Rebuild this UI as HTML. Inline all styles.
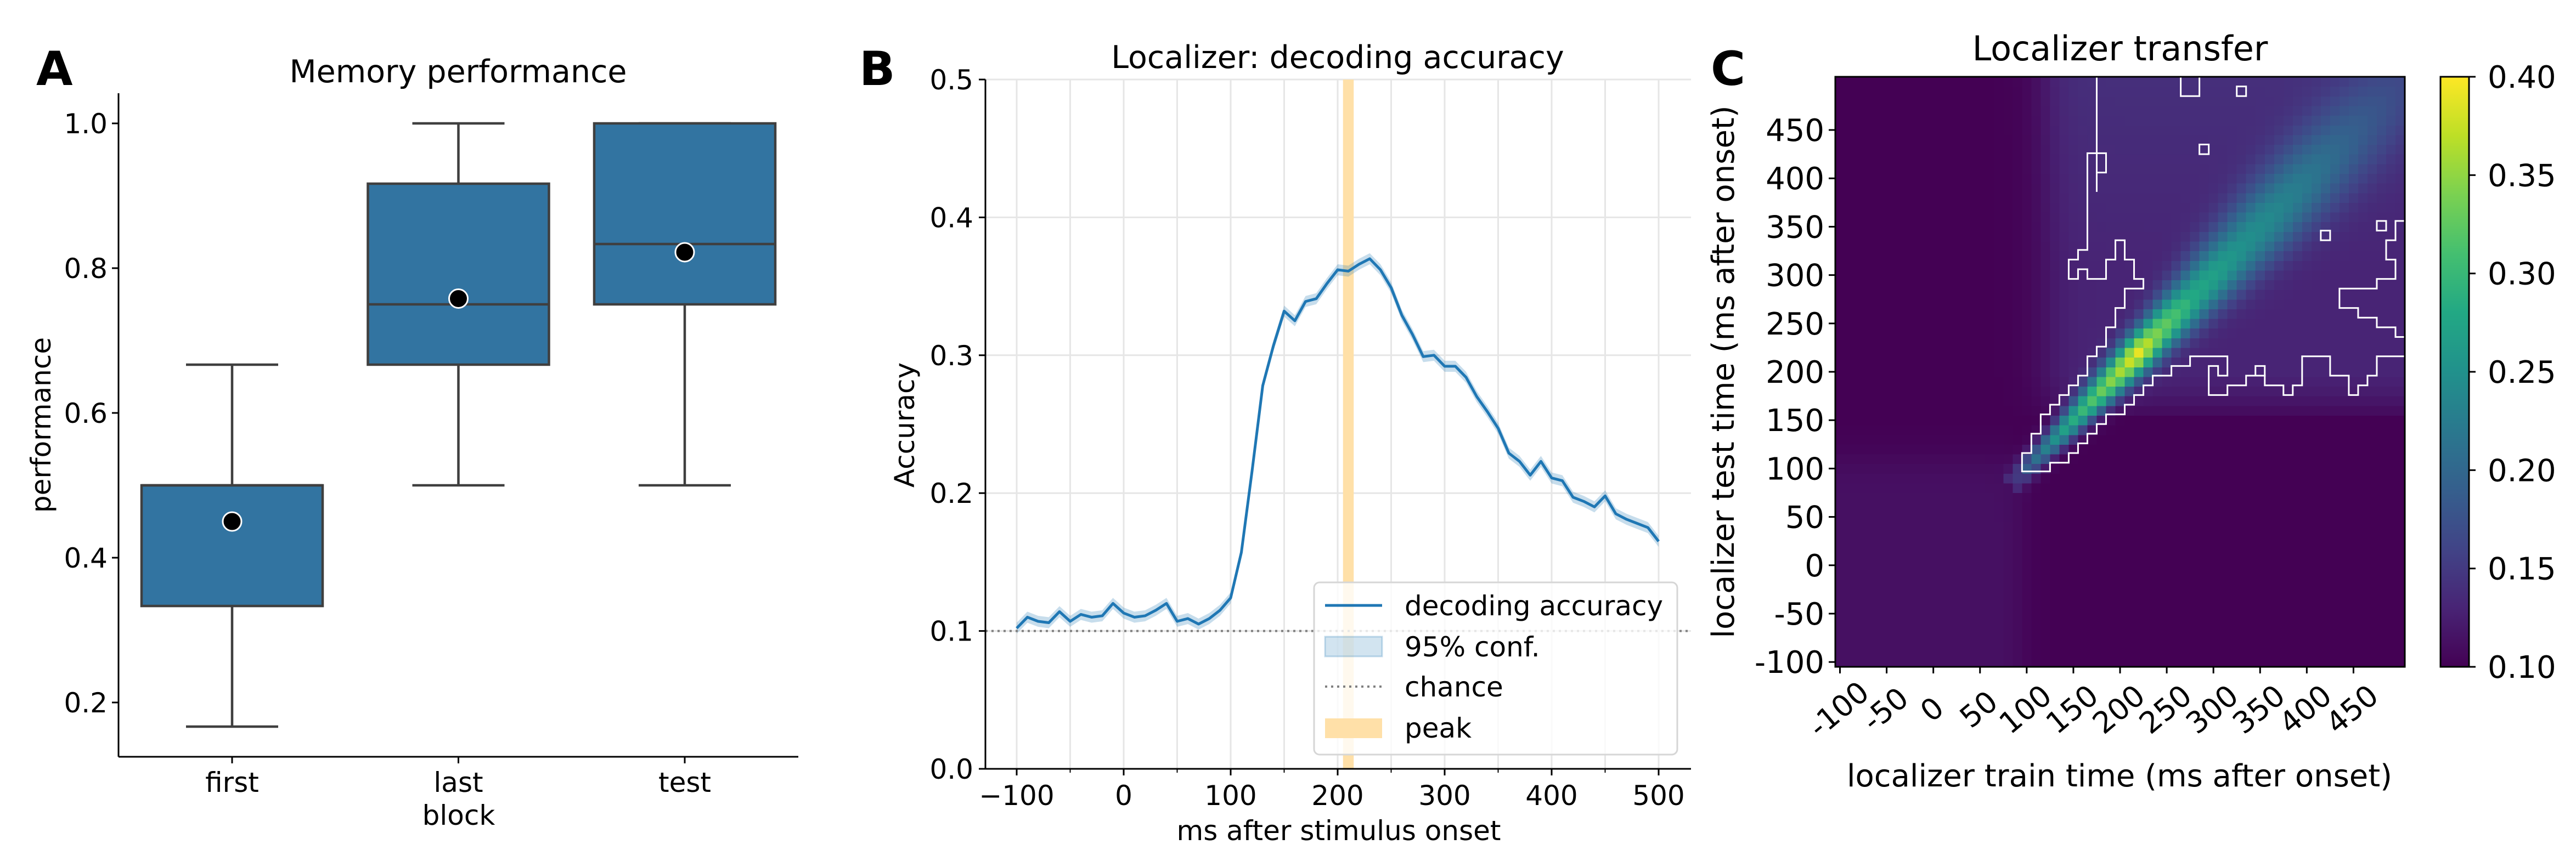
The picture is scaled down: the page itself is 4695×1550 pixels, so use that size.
<!DOCTYPE html>
<html><head><meta charset="utf-8"><style>
html,body{margin:0;padding:0;background:#fff}
svg{display:block;font-family:"DejaVu Sans","Liberation Sans",sans-serif}
</style></head><body>
<svg id="fig" xmlns="http://www.w3.org/2000/svg" width="4695" height="1550" viewBox="0 0 4695 1550">
<rect width="4695" height="1550" fill="#fff"/>
<g id="pA"></g>
<g id="pB"></g>
<g id="pC"></g>
</svg>
<script>
// ---------- Panel A data ----------
const boxCats = ["first","last","test"];
const boxQ1 = [0.3333,0.6667,0.75];
const boxQ3 = [0.5,0.9167,1.0];
const boxMed = [0.5,0.75,0.8333];
const boxWLo = [0.1667,0.5,0.5];
const boxWHi = [0.6667,1.0,1.0];
const boxMean = [0.45,0.758,0.822];
const aTicks = [0.2,0.4,0.6,0.8,1.0];
// ---------- Panel B data ----------
const accTimes = [-100,-90,-80,-70,-60,-50,-40,-30,-20,-10,0,10,20,30,40,50,60,70,80,90,100,110,120,130,140,150,160,170,180,190,200,210,220,230,240,250,260,270,280,290,300,310,320,330,340,350,360,370,380,390,400,410,420,430,440,450,460,470,480,490,500];
const accValues = [0.102,0.110,0.107,0.106,0.114,0.107,0.112,0.110,0.111,0.120,0.113,0.110,0.111,0.115,0.120,0.107,0.109,0.105,0.109,0.115,0.124,0.157,0.216,0.278,0.307,0.332,0.325,0.339,0.341,0.352,0.362,0.361,0.366,0.370,0.362,0.349,0.329,0.315,0.299,0.300,0.292,0.292,0.284,0.270,0.259,0.247,0.229,0.223,0.213,0.223,0.211,0.209,0.197,0.194,0.190,0.198,0.185,0.181,0.178,0.175,0.165];
const accCI = 0.004;
const bXTicks = [-100,0,100,200,300,400,500];
const bYTicks = [0.0,0.1,0.2,0.3,0.4,0.5];
const chanceLevel = 0.1;
const peakRange = [205,215];
// ---------- Panel C data ----------
const cTimes = [-100,-90,-80,-70,-60,-50,-40,-30,-20,-10,0,10,20,30,40,50,60,70,80,90,100,110,120,130,140,150,160,170,180,190,200,210,220,230,240,250,260,270,280,290,300,310,320,330,340,350,360,370,380,390,400,410,420,430,440,450,460,470,480,490,500];
const diagTimes = [90,100,120,140,160,180,200,220,240,260,280,300,330,360,400,450,500];
const diagValues = [0.15,0.19,0.23,0.27,0.30,0.33,0.36,0.39,0.34,0.31,0.28,0.27,0.25,0.24,0.22,0.19,0.165];
const diagWidth = [15,15,16,18,20,22,24,26,28,32,36,40,45,50,55,60,60];
const offTestTimes = [150,160,200,300,400,500];
const offValues = [0.10,0.12,0.13,0.13,0.135,0.14];
const earlyLevel = 0.113;
const cTicks = [-100,-50,0,50,100,150,200,250,300,350,400,450];
const cbTicks = [0.10,0.15,0.20,0.25,0.30,0.35,0.40];
const contourMain = [[95,97],[95,116],[105,116],[105,136],[115,136],[115,156],[125,156],[125,166],[135,166],[135,176],[145,176],[145,186],[155,186],[155,196],[165,196],[165,216],[175,216],[175,226],[185,226],[185,246],[195,246],[195,266],[205,266],[205,286],[225,286],[225,296],[215,296],[215,316],[205,316],[205,336],[195,336],[195,316],[185,316],[185,296],[165,296],[165,306],[155,306],[155,296],[145,296],[145,316],[155,316],[155,326],[165,326],[165,426],[185,426],[185,406],[175,406],[175,386],[175,386],[175,505],[505,505],[505,356],[495,356],[495,336],[485,336],[485,316],[495,316],[495,296],[475,296],[475,286],[435,286],[435,266],[455,266],[455,256],[475,256],[475,246],[495,246],[495,236],[505,236],[505,216],[475,216],[475,196],[465,196],[465,186],[455,186],[455,176],[445,176],[445,196],[425,196],[425,216],[395,216],[395,186],[385,186],[385,176],[375,176],[375,186],[355,186],[355,196],[335,196],[335,186],[315,186],[315,176],[295,176],[295,206],[305,206],[305,196],[315,196],[315,216],[275,216],[275,206],[255,206],[255,196],[235,196],[235,186],[225,186],[225,176],[215,176],[215,166],[205,166],[205,156],[185,156],[185,146],[175,146],[175,136],[165,136],[165,126],[155,126],[155,116],[145,116],[145,106],[125,106],[125,97]];
const contourIslands = [[[265,485],[285,485],[285,505],[265,505]],[[285,425],[295,425],[295,435],[285,435]],[[325,485],[335,485],[335,495],[325,495]],[[415,336],[425,336],[425,346],[415,346]],[[475,346],[485,346],[485,356],[475,356]],[[345,196],[355,196],[355,206],[345,206]]];

const NS="http://www.w3.org/2000/svg";
function mk(parent,tag,attrs,text){const e=document.createElementNS(NS,tag);for(const k in attrs)e.setAttribute(k,attrs[k]);if(text!==undefined)e.textContent=text;parent.appendChild(e);return e;}
function interp(xs,ys,x){if(x<=xs[0])return ys[0];for(let i=1;i<xs.length;i++){if(x<=xs[i]){const f=(x-xs[i-1])/(xs[i]-xs[i-1]);return ys[i-1]+f*(ys[i]-ys[i-1]);}}return ys[ys.length-1];}
function sig(z){return 1/(1+Math.exp(-z));}

// ================= Panel A =================
(function(){
const g=document.getElementById('pA');
const L=216,R=1455,T=170,B=1380;
const y=v=>1545-1320*v;
const xc=i=>423+i*412.5;
let t;
t=mk(g,'text',{x:66,y:155,'font-size':86,'font-weight':'bold'},'A');

t=mk(g,'text',{x:835,y:150,'font-size':57,'text-anchor':'middle'},'Memory performance');

for(let i=0;i<boxCats.length;i++){
  const bg=mk(g,'g',{});
  
  const x=xc(i),hw=165,cw=84,st='#3f3f3f';
  mk(bg,'line',{x1:x,x2:x,y1:y(boxQ3[i]),y2:y(boxWHi[i]),stroke:st,'stroke-width':4.5});
  mk(bg,'line',{x1:x,x2:x,y1:y(boxQ1[i]),y2:y(boxWLo[i]),stroke:st,'stroke-width':4.5});
  mk(bg,'line',{x1:x-cw,x2:x+cw,y1:y(boxWHi[i]),y2:y(boxWHi[i]),stroke:st,'stroke-width':4.5});
  mk(bg,'line',{x1:x-cw,x2:x+cw,y1:y(boxWLo[i]),y2:y(boxWLo[i]),stroke:st,'stroke-width':4.5});
  mk(bg,'rect',{x:x-hw,y:y(boxQ3[i]),width:2*hw,height:y(boxQ1[i])-y(boxQ3[i]),fill:'#3274a1',stroke:st,'stroke-width':4.5});
  mk(bg,'line',{x1:x-hw,x2:x+hw,y1:y(boxMed[i]),y2:y(boxMed[i]),stroke:st,'stroke-width':4.5});
  const m=mk(bg,'circle',{cx:x,cy:y(boxMean[i]),r:17,fill:'#000',stroke:'#fff','stroke-width':3});
  
  mk(g,'line',{x1:x,x2:x,y1:B,y2:B+12,stroke:'#000','stroke-width':3});
  t=mk(g,'text',{x:x,y:1444,'font-size':50,'text-anchor':'middle'},boxCats[i]);
  
}
aTicks.forEach(v=>{mk(g,'line',{x1:L-12,x2:L,y1:y(v),y2:y(v),stroke:'#000','stroke-width':3});
  const tt=mk(g,'text',{x:L-20,y:y(v)+18,'font-size':50,'text-anchor':'end'},v.toFixed(1));
  });
mk(g,'line',{x1:L,x2:L,y1:T,y2:B,stroke:'#000','stroke-width':3});
mk(g,'line',{x1:L,x2:R,y1:B,y2:B,stroke:'#000','stroke-width':3});
t=mk(g,'text',{x:836,y:1504,'font-size':50,'text-anchor':'middle'},'block');

t=mk(g,'text',{x:0,y:0,'font-size':50,'text-anchor':'middle',transform:'translate(92,775) rotate(-90)'},'performance');

})();

// ================= Panel B =================
(function(){
const g=document.getElementById('pB');
const L=1796,R=3082,T=145,B=1402;
const x=v=>1853+(v+100)*1.95;
const y=v=>B-v*2514;
let t;
t=mk(g,'text',{x:1566,y:155,'font-size':86,'font-weight':'bold'},'B');

t=mk(g,'text',{x:2438,y:124,'font-size':57,'text-anchor':'middle'},'Localizer: decoding accuracy');

const grid=mk(g,'g',{});
for(let v=-100;v<=500;v+=50)mk(grid,'line',{x1:x(v),x2:x(v),y1:T,y2:B,stroke:'#e6e6e6','stroke-width':3});
bYTicks.forEach(v=>mk(grid,'line',{x1:L,x2:R,y1:y(v),y2:y(v),stroke:'#e6e6e6','stroke-width':3}));
const pk=mk(g,'rect',{x:x(peakRange[0]),y:T,width:x(peakRange[1])-x(peakRange[0]),height:B-T,fill:'#ffe0a8'});

let up='',lo='';
accTimes.forEach((tt,i)=>{up+=(i?'L':'M')+x(tt)+','+y(accValues[i]+accCI);});
for(let i=accTimes.length-1;i>=0;i--)lo+='L'+x(accTimes[i])+','+y(accValues[i]-accCI);
const ci=mk(g,'path',{d:up+lo+'Z',fill:'rgba(31,119,180,0.25)'});

const ch=mk(g,'line',{x1:L,x2:R,y1:y(chanceLevel),y2:y(chanceLevel),stroke:'#808080','stroke-width':4,'stroke-dasharray':'4,7'});

const ln=mk(g,'polyline',{points:accTimes.map((tt,i)=>x(tt)+','+y(accValues[i])).join(' '),fill:'none',stroke:'#1f77b4','stroke-width':5,'stroke-linejoin':'round'});

mk(g,'line',{x1:L,x2:L,y1:T,y2:B,stroke:'#000','stroke-width':3});
mk(g,'line',{x1:L,x2:R,y1:B,y2:B,stroke:'#000','stroke-width':3});
bYTicks.forEach(v=>{mk(g,'line',{x1:L-12,x2:L,y1:y(v),y2:y(v),stroke:'#000','stroke-width':3});
  const tt=mk(g,'text',{x:L-22,y:y(v)+18,'font-size':50,'text-anchor':'end'},v.toFixed(1));
  });
for(let v=-50;v<=450;v+=100)mk(g,'line',{x1:x(v),x2:x(v),y1:B,y2:B+7,stroke:'#000','stroke-width':2});
bXTicks.forEach(v=>{mk(g,'line',{x1:x(v),x2:x(v),y1:B,y2:B+12,stroke:'#000','stroke-width':3});
  const tt=mk(g,'text',{x:x(v),y:1468,'font-size':50,'text-anchor':'middle'},v<0?'\u2212'+(-v):String(v));
  });
t=mk(g,'text',{x:2440,y:1532,'font-size':50,'text-anchor':'middle'},'ms after stimulus onset');

t=mk(g,'text',{x:0,y:0,'font-size':50,'text-anchor':'middle',transform:'translate(1666,775) rotate(-90)'},'Accuracy');

// legend
const lg=mk(g,'g',{});
mk(lg,'rect',{x:2395,y:1062,width:662,height:314,rx:10,fill:'rgba(255,255,255,0.8)',stroke:'#d6d6d6','stroke-width':3});
const lx=2415,tx2=2560;
mk(lg,'line',{x1:lx,x2:lx+104,y1:1104,y2:1104,stroke:'#1f77b4','stroke-width':5});
mk(lg,'rect',{x:lx,y:1161,width:104,height:36,fill:'rgba(31,119,180,0.2)',stroke:'rgba(31,119,180,0.25)','stroke-width':3});
mk(lg,'line',{x1:lx,x2:lx+104,y1:1252,y2:1252,stroke:'#808080','stroke-width':4,'stroke-dasharray':'4,7'});
mk(lg,'rect',{x:lx,y:1310,width:104,height:36,fill:'#ffe0a8'});
[['decoding accuracy',1122],['95% conf.',1197],['chance',1270],['peak',1345]].forEach(a=>{
  const tt=mk(lg,'text',{x:tx2,y:a[1],'font-size':50},a[0]);
  });
})();

// ================= Panel C =================
(function(){
const g=document.getElementById('pC');
const L=3345,R=4383,T=140,B=1216;
const cw=(R-L)/cTimes.length,ch=(B-T)/cTimes.length;
const vstops=['#440154','#482475','#414487','#355f8d','#2a788e','#21918c','#22a884','#44bf70','#7ad151','#bddf26','#fde725'];
function hex(h){return [1,3,5].map(i=>parseInt(h.substr(i,2),16));}
function viridis(tn){tn=Math.max(0,Math.min(1,tn));const p=tn*10,i=Math.min(9,Math.floor(p)),f=p-i;const a=hex(vstops[i]),b=hex(vstops[i+1]);return 'rgb('+a.map((c,k)=>Math.round(c+(b[k]-c)*f)).join(',')+')';}
let t;
t=mk(g,'text',{x:3118,y:155,'font-size':86,'font-weight':'bold'},'C');

t=mk(g,'text',{x:3864,y:110,'font-size':62,'text-anchor':'middle'},'Localizer transfer');

const hm=mk(g,'g',{'shape-rendering':'crispEdges'});

cTimes.forEach((te,j)=>{cTimes.forEach((tr,i)=>{
  const early=(earlyLevel-0.10)*sig((95-tr)/8)*sig((110-te)/10);
  const offTarget=interp(offTestTimes,offValues,te)-0.10;
  const off=offTarget*sig((tr-120)/12)*sig((te-160)/8);
  let v=0.10+early+off;
  const tm=(tr+te)/2;
  if(tm>=85){const d=interp(diagTimes,diagValues,tm),w=interp(diagTimes,diagWidth,tm);const dt=tr-te;v=Math.max(v,v+(d-v)*Math.exp(-(dt*dt)/(w*w)));}
  mk(hm,'rect',{x:(L+i*cw).toFixed(2),y:(B-(j+1)*ch).toFixed(2),width:(cw+0.6).toFixed(2),height:(ch+0.6).toFixed(2),fill:viridis((v-0.1)/0.3)});
});});
const cx=v=>L+(v+105)/10*cw, cy=v=>B-(v+105)/10*ch;
const ct=mk(g,'g',{});
const clip=v=>[Math.min(R,Math.max(L,v[0])),Math.min(B,Math.max(T,v[1]))];
mk(ct,'polygon',{points:contourMain.map(p=>clip([cx(p[0]),cy(p[1])]).join(',')).join(' '),fill:'none',stroke:'#fff','stroke-width':3});
contourIslands.forEach(poly=>mk(ct,'polygon',{points:poly.map(p=>clip([cx(p[0]),cy(p[1])]).join(',')).join(' '),fill:'none',stroke:'#fff','stroke-width':3}));
mk(g,'rect',{x:L,y:T,width:R-L,height:B-T,fill:'none',stroke:'#000','stroke-width':3});
cTicks.forEach(v=>{
  const px=L+(v+100)/10*cw+cw/2, py=B-((v+100)/10*ch+ch/2);
  mk(g,'line',{x1:px,x2:px,y1:B,y2:B+12,stroke:'#000','stroke-width':3});
  mk(g,'line',{x1:L-12,x2:L,y1:py,y2:py,stroke:'#000','stroke-width':3});
  const a=mk(g,'text',{x:0,y:18,'font-size':54,'text-anchor':'middle',transform:'translate('+(px-2)+','+(B+78)+') rotate(-40)'},String(v));
  
  const b=mk(g,'text',{x:L-20,y:py+20,'font-size':56,'text-anchor':'end'},String(v));
  
});
t=mk(g,'text',{x:3863,y:1434,'font-size':56,'text-anchor':'middle'},'localizer train time (ms after onset)');

t=mk(g,'text',{x:0,y:0,'font-size':56,'text-anchor':'middle',transform:'translate(3160,678) rotate(-90)'},'localizer test time (ms after onset)');

// colorbar
const cb=mk(g,'g',{});
const defs=mk(cb,'defs',{});const lgd=mk(defs,'linearGradient',{id:'vir',x1:0,y1:1,x2:0,y2:0});
vstops.forEach((c,i)=>mk(lgd,'stop',{offset:i/10,'stop-color':c}));
const CL=4448,CR=4500,CT=140,CB=1216;
mk(cb,'rect',{x:CL,y:CT,width:CR-CL,height:CB-CT,fill:'url(#vir)',stroke:'#000','stroke-width':3});
cbTicks.forEach(v=>{const py=CB-(v-0.1)/0.3*(CB-CT);
  mk(cb,'line',{x1:CR,x2:CR+12,y1:py,y2:py,stroke:'#000','stroke-width':3});
  const tt=mk(cb,'text',{x:CR+34,y:py+20,'font-size':56},v.toFixed(2));
  });
})();
</script>
</body></html>
